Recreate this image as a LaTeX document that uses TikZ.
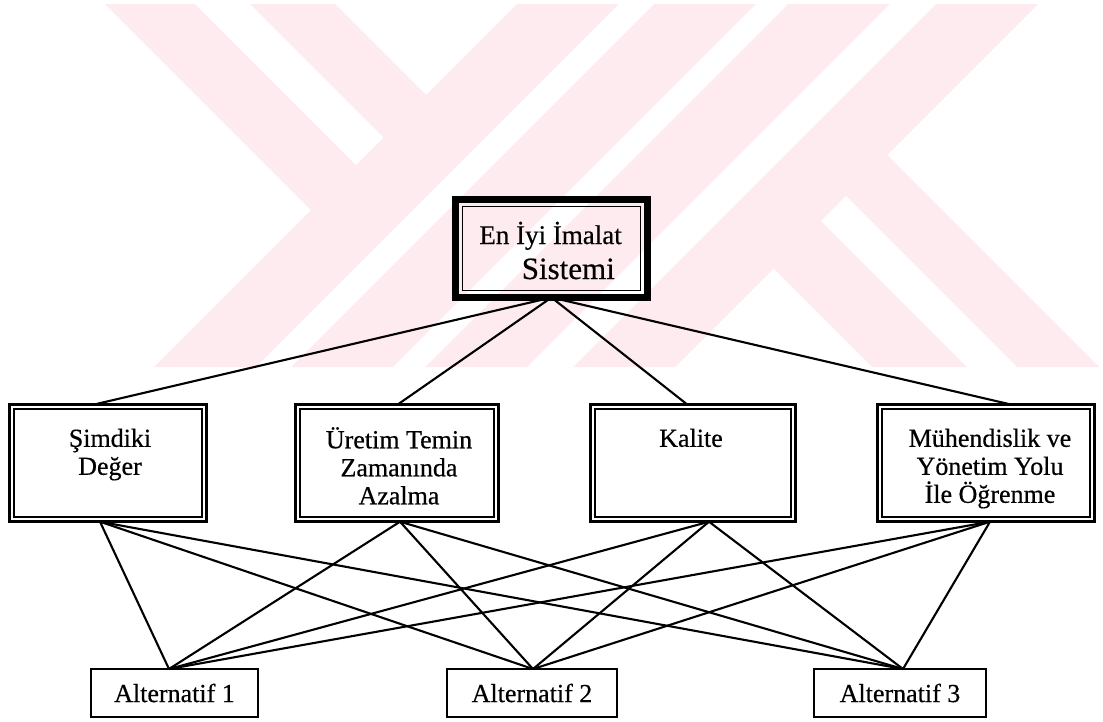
\documentclass[tikz,border=0pt]{standalone}
\usepackage{fontspec}
\setmainfont{Liberation Serif}[FakeBold=0.5]
\definecolor{wmpink}{RGB}{253,235,240}
\begin{document}
\begin{tikzpicture}[x=1pt,y=-1pt,
  conn/.style={line width=2.1pt, line cap=round},
  mainbox/.style={draw, rectangle, inner sep=0pt, outer sep=0pt, line width=7pt,
                  minimum width=192pt, minimum height=98pt},
  critbox/.style={draw, rectangle, inner sep=0pt, outer sep=0pt, line width=2.6pt,
                  minimum height=117.4pt},
  altbox/.style={draw, rectangle, inner sep=0pt, outer sep=0pt, line width=2pt,
                 minimum height=48pt, font=\fontsize{26}{30}\selectfont},
  crittext/.style={anchor=north, inner sep=0pt, align=center,
                   font=\fontsize{26}{28}\selectfont},
  innerline/.style={line width=1.6pt}
]
% page
\fill[white] (0,0) rectangle (1103,721);
\useasboundingbox (0,0) rectangle (1103,721);

% faint background emblem
\fill[wmpink] (105,4) -- (335,4) -- (426,95) -- (517,4) -- (1038,4) -- (887,155)
  -- (1099,367) -- (872,367) -- (773.5,268.5) -- (675,367) -- (154,367) -- (311,210) -- cycle;
\fill[white] (195,4) -- (250,4) -- (383.5,137.5) -- (356,165) -- cycle;
\fill[white] (619,4) -- (654,4) -- (291,367) -- (256,367) -- cycle;
\fill[white] (756,4) -- (788,4) -- (425,367) -- (393,367) -- cycle;
\fill[white] (890,4) -- (936,4) -- (573,367) -- (527,367) -- cycle;
\fill[white] (821,221) -- (846,196) -- (1017,367) -- (967,367) -- cycle;

% goal
\node[mainbox] (top) at (551.5,248.5) {};
\draw[innerline] ([xshift=7pt,yshift=-7pt]top.north west) rectangle ([xshift=-7pt,yshift=7pt]top.south east);
\node[anchor=east, inner sep=0pt] (toptext) at (622,254.5)
  {\fontsize{27}{35}\selectfont\begin{tabular}{@{}r@{}}En İyi İmalat\\{\fontsize{31}{35}\selectfont Sistemi}\hspace*{7pt}\end{tabular}};

% criteria
\node[critbox, minimum width=197.4pt] (simdiki) at (108,463) {};
\node[critbox, minimum width=203.4pt] (uretim)  at (397,463) {};
\node[critbox, minimum width=205.4pt] (kalite)  at (693,463) {};
\node[critbox, minimum width=217.4pt] (muh)     at (986,463) {};
\foreach \c in {simdiki,uretim,kalite,muh}
  \draw[innerline] ([xshift=4.5pt,yshift=-4.5pt]\c.north west) rectangle ([xshift=-4.5pt,yshift=4.5pt]\c.south east);

\node[crittext] (simdikitext) at (110,427) {\strut Şimdiki\\Değer};
\node[crittext] (uretimtext)  at (399,427) {\strut Üretim Temin\\Zamanında\\Azalma};
\node[crittext] (kalitetext)  at (691,427) {\strut Kalite};
\node[crittext] (muhtext)     at (990,427) {\strut Mühendislik ve\\Yönetim Yolu\\İle Öğrenme};

% alternatives
\node[altbox, minimum width=167pt] (alt1) at (174.5,693) {Alternatif 1};
\node[altbox, minimum width=170pt] (alt2) at (532,693) {Alternatif 2};
\node[altbox, minimum width=172pt] (alt3) at (900,693) {Alternatif 3};

% goal to criteria
\foreach \c/\dx in {simdiki/-13, uretim/1, kalite/-6, muh/24}
  \draw[conn] (top.south) -- ([xshift=\dx pt]\c.north);

% criteria to alternatives
\foreach \c/\dx in {simdiki/-8, uretim/3, kalite/16, muh/4}
  \foreach \a/\ax in {alt1/-5.5, alt2/1, alt3/3}
    \draw[conn] ([xshift=\dx pt]\c.south) -- ([xshift=\ax pt]\a.north);
\end{tikzpicture}
\end{document}
